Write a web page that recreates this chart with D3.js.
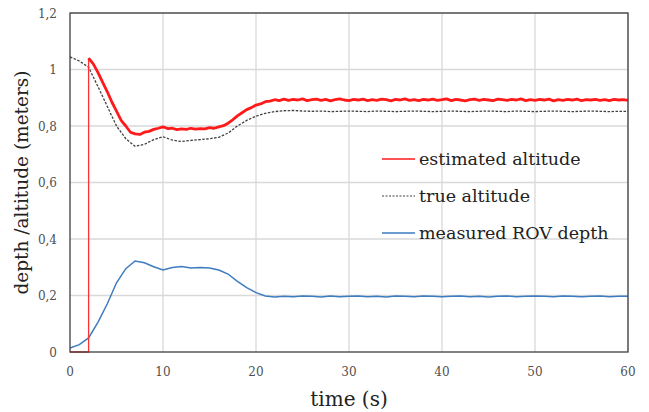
<!DOCTYPE html>
<html>
<head>
<meta charset="utf-8">
<script src="https://cdn.jsdelivr.net/npm/d3@7.9.0/dist/d3.min.js"></script>
<style>
  body { margin: 0; background: #fff; }
  svg { display: block; font-family: "DejaVu Serif", serif; }
</style>
</head>
<body>
<svg width="649" height="412"></svg>
<script>
// axis ticks
const xTicks = [0, 10, 20, 30, 40, 50, 60];
const yTicks = [0, 0.2, 0.4, 0.6, 0.8, 1.0, 1.2];

// true altitude + measured depth, sampled every second from 0 to 60 s
const time = [0,1,2,3,4,5,6,7,8,9,10,11,12,13,14,15,16,17,18,19,20,
  21,22,23,24,25,26,27,28,29,30,31,32,33,34,35,36,37,38,39,40,
  41,42,43,44,45,46,47,48,49,50,51,52,53,54,55,56,57,58,59,60];
const trueAltitude = [1.045,1.03,1.008,0.94,0.87,0.80,0.755,0.728,0.735,0.752,0.762,
  0.75,0.745,0.749,0.752,0.755,0.76,0.775,0.80,0.82,0.835,
  0.845,0.851,0.854,0.855,0.853,0.852,0.853,0.851,0.852,0.853,
  0.852,0.851,0.853,0.852,0.851,0.852,0.853,0.852,0.851,0.852,
  0.853,0.852,0.851,0.852,0.853,0.852,0.851,0.853,0.852,0.851,
  0.852,0.853,0.852,0.851,0.852,0.853,0.852,0.851,0.852,0.852];
const rovDepth = [0.014,0.026,0.05,0.105,0.17,0.245,0.295,0.322,0.316,0.302,0.29,
  0.299,0.303,0.297,0.299,0.297,0.29,0.276,0.25,0.228,0.21,
  0.198,0.195,0.197,0.196,0.198,0.197,0.195,0.198,0.196,0.197,
  0.198,0.196,0.197,0.195,0.198,0.197,0.196,0.198,0.197,0.196,
  0.197,0.198,0.196,0.197,0.195,0.197,0.198,0.196,0.197,0.198,
  0.197,0.196,0.198,0.197,0.196,0.197,0.198,0.196,0.197,0.197];

// estimated altitude: zero until the filter starts at 2 s, then every 0.5 s
const estimatedLead = [[0, 0], [2, 0]];
const estimatedTime = [2,2.5,3,3.5,4,4.5,5,5.5,6,6.5,7,7.5,8,8.5,9,9.5,10,10.5,11,11.5,
  12,12.5,13,13.5,14,14.5,15,15.5,16,16.5,17,17.5,18,18.5,19,19.5,20,20.5,21,21.5,
  22,22.5,23,23.5,24,24.5,25,25.5,26,26.5,27,27.5,28,28.5,29,29.5,30,30.5,31,31.5,
  32,32.5,33,33.5,34,34.5,35,35.5,36,36.5,37,37.5,38,38.5,39,39.5,40,40.5,41,41.5,
  42,42.5,43,43.5,44,44.5,45,45.5,46,46.5,47,47.5,48,48.5,49,49.5,50,50.5,51,51.5,
  52,52.5,53,53.5,54,54.5,55,55.5,56,56.5,57,57.5,58,58.5,59,59.5,60];
const estimatedAltitude = [1.040,1.020,0.990,0.955,0.922,0.885,0.853,0.820,0.800,0.778,
  0.772,0.770,0.778,0.781,0.788,0.792,0.797,0.791,0.792,0.787,
  0.790,0.788,0.792,0.789,0.791,0.790,0.794,0.792,0.797,0.801,
  0.810,0.822,0.836,0.847,0.858,0.865,0.874,0.878,0.886,0.888,
  0.893,0.890,0.895,0.891,0.894,0.892,0.896,0.890,0.893,0.895,
  0.891,0.894,0.889,0.893,0.896,0.892,0.890,0.894,0.892,0.895,
  0.890,0.893,0.891,0.895,0.893,0.889,0.894,0.892,0.896,0.891,
  0.893,0.890,0.894,0.892,0.895,0.891,0.893,0.896,0.890,0.894,
  0.892,0.889,0.893,0.895,0.891,0.894,0.892,0.890,0.895,0.893,
  0.891,0.894,0.892,0.896,0.890,0.893,0.891,0.894,0.892,0.895,
  0.889,0.893,0.891,0.894,0.892,0.895,0.890,0.893,0.892,0.894,
  0.891,0.893,0.890,0.894,0.892,0.893,0.891];

const legendLabels = ['estimated altitude', 'true altitude', 'measured ROV depth'];

const svg = d3.select('svg');
const pLeft = 70, pRight = 628, pTop = 13, pBottom = 352;

let x = d3.scaleLinear().domain([0, 60]).range([pLeft, pRight]);
let y = d3.scaleLinear().domain([0, 1.2]).range([pBottom, pTop]);

// grid
svg.append('g').selectAll('line').data(yTicks.slice(1)).join('line')
  .attr('x1', pLeft).attr('x2', pRight)
  .attr('y1', d => y(d)).attr('y2', d => y(d))
  .attr('stroke', '#d9d9d9').attr('stroke-width', 1.3);
svg.append('g').selectAll('line').data(xTicks.slice(1)).join('line')
  .attr('x1', d => x(d)).attr('x2', d => x(d))
  .attr('y1', pTop).attr('y2', pBottom)
  .attr('stroke', '#d9d9d9').attr('stroke-width', 1.3);

// tick labels
svg.append('g').selectAll('text').data(yTicks).join('text')
  .attr('x', 57).attr('y', d => y(d) + 4.5)
  .attr('text-anchor', 'end').attr('font-size', 12).attr('fill', '#505050')
  .text(d => d3.format('.1~f')(d).replace('.', ','));
svg.append('g').selectAll('text').data(xTicks).join('text')
  .attr('x', d => x(d)).attr('y', 376)
  .attr('text-anchor', 'middle').attr('font-size', 12).attr('fill', '#505050')
  .text(d => d);

// axis titles
svg.append('text').attr('x', (pLeft + pRight) / 2).attr('y', 406)
  .attr('text-anchor', 'middle').attr('font-size', 20).attr('fill', '#222')
  .text('time (s)');
svg.append('text')
  .attr('transform', `translate(28,${(pTop + pBottom) / 2}) rotate(-90)`)
  .attr('text-anchor', 'middle').attr('font-size', 18.5).attr('fill', '#222')
  .text('depth /altitude (meters)');

let line = d3.line().x(d => x(d[0])).y(d => y(d[1]));

// true altitude (dashed)
svg.append('path')
  .attr('d', line(time.map((t, i) => [t, trueAltitude[i]])))
  .attr('fill', 'none').attr('stroke', '#404040').attr('stroke-width', 1.3)
  .attr('stroke-dasharray', '2.5,1.5');

// measured depth
svg.append('path')
  .attr('d', line(time.map((t, i) => [t, rovDepth[i]])))
  .attr('fill', 'none').attr('stroke', '#3d7cc0').attr('stroke-width', 1.5);

// estimated altitude: thin start-up step, then the noisy (thick) estimate
let est = estimatedTime.map((t, i) => [t, estimatedAltitude[i]]);
svg.append('path')
  .attr('d', line(estimatedLead.concat([est[0]])))
  .attr('fill', 'none').attr('stroke', '#ff3030').attr('stroke-width', 1.3);
svg.append('path')
  .attr('d', line(est))
  .attr('fill', 'none').attr('stroke', '#ff1a1a').attr('stroke-width', 2.8)
  .attr('stroke-linejoin', 'round');

// plot border
svg.append('rect')
  .attr('x', pLeft).attr('y', pTop).attr('width', pRight - pLeft).attr('height', pBottom - pTop)
  .attr('fill', 'none').attr('stroke', '#404040').attr('stroke-width', 1.3);

// legend
const legendColors = ['#ff1a1a', '#404040', '#3d7cc0'];
const legendY = [159, 196, 233];
legendLabels.forEach((lab, i) => {
  svg.append('line')
    .attr('x1', 382).attr('x2', 415).attr('y1', legendY[i]).attr('y2', legendY[i])
    .attr('stroke', legendColors[i]).attr('stroke-width', i === 1 ? 1.2 : 1.5)
    .attr('stroke-dasharray', i === 1 ? '2,1.5' : null);
  svg.append('text')
    .attr('x', 419).attr('y', legendY[i] + 6)
    .attr('font-size', 17.5).attr('fill', '#222')
    .text(lab);
});
</script>
</body>
</html>
